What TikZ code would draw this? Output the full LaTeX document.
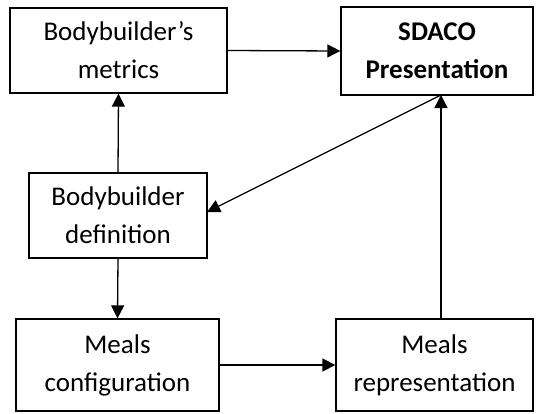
\documentclass[tikz,border=0pt]{standalone}
\usepackage{fontspec}
\setmainfont{Carlito}
\usetikzlibrary{arrows.meta}
\begin{document}
\begin{tikzpicture}[x=1pt,y=-1pt,>={Triangle[length=13pt,width=13pt]}, line join=miter,
	box/.style={draw,line width=1.3pt,align=center,inner sep=0pt,font=\fontsize{27}{38}\selectfont},
	link/.style={->,line width=1.3pt}]
	\useasboundingbox (0,0) rectangle (536,413);
	\node[box,minimum width=217pt,minimum height=85pt] (metrics) at (118.5,50.5) {Bodybuilder’s\\metrics};
	\node[box,minimum width=192pt,minimum height=88pt] (sdaco) at (437,51) {\bfseries SDACO\\\bfseries Presentation};
	\node[box,minimum width=178pt,minimum height=85pt] (defin) at (118,215.5) {Bodybuilder\\definition};
	\node[box,minimum width=203pt,minimum height=92pt] (config) at (117.5,365) {Meals\\configuration};
	\node[box,minimum width=197pt,minimum height=92pt] (repres) at (434.5,365) {Meals\\representation};
	\coordinate (s1) at (441,95);
	\coordinate (s2) at (441,319);
	\coordinate (d1) at (207,212);
	\draw[link] (metrics.east) -- (sdaco.west);
	\draw[link] (defin.north) -- (metrics.south);
	\draw[link] (s1) -- (d1);
	\draw[link] (defin.south) -- (config.north);
	\draw[link] (config.east) -- (repres.west);
	\draw[link] (s2) -- (s1);
\end{tikzpicture}
\end{document}
